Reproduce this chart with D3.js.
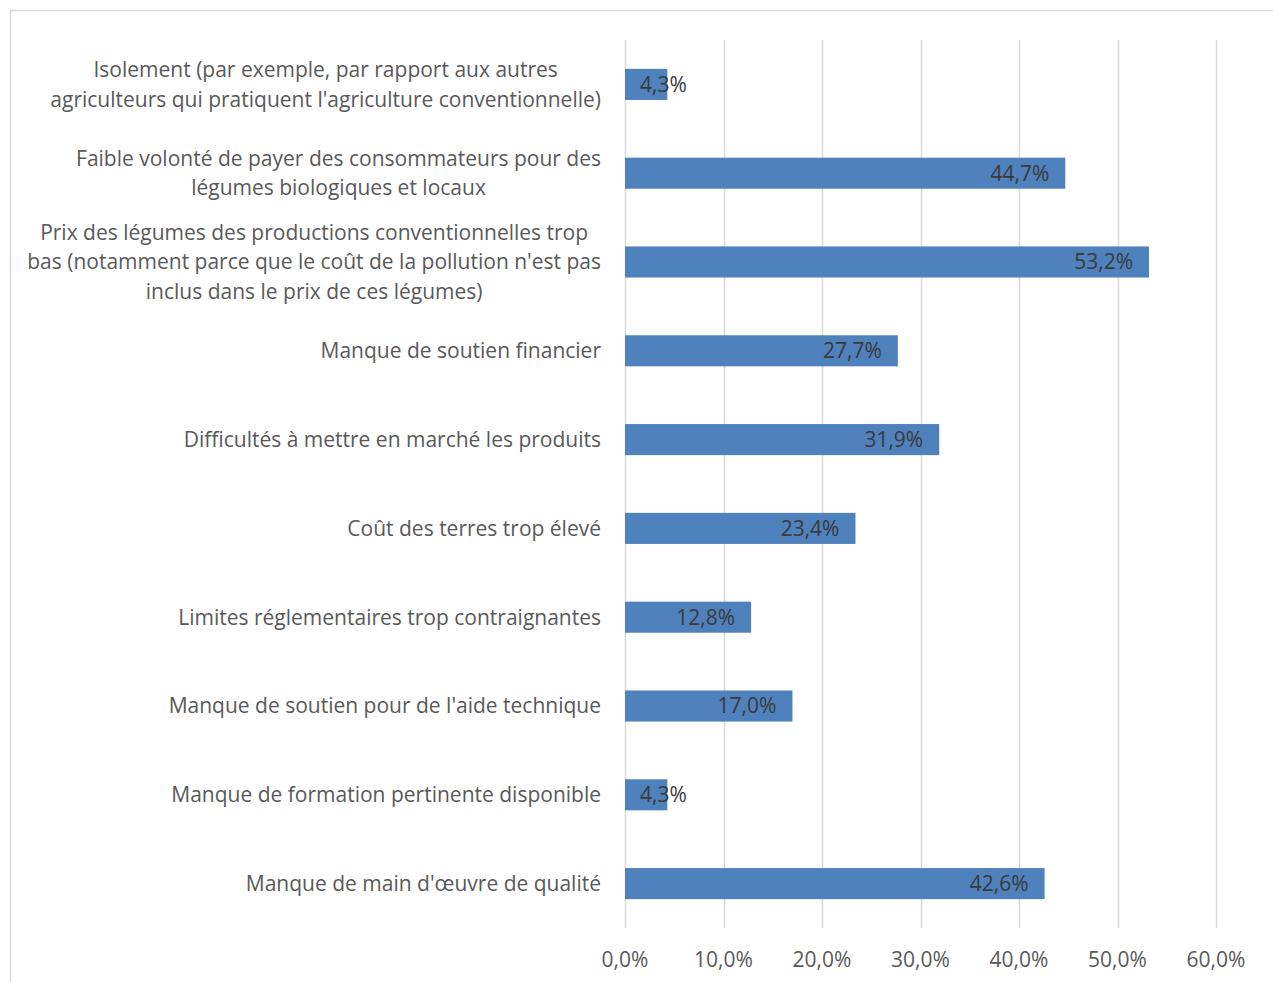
<!DOCTYPE html>
<html>
<head>
<meta charset="utf-8">
<script src="https://cdn.jsdelivr.net/npm/d3@7"></script>
<style>
  html, body { margin: 0; padding: 0; background: #ffffff; }
  svg { display: block; }
  text { font-family: "Open Sans", sans-serif; fill: #595959; }
</style>
</head>
<body>
<svg id="chart" width="1273" height="982"></svg>
<script>
const categories = [
  "Isolement (par exemple, par rapport aux autres\nagriculteurs qui pratiquent l'agriculture conventionnelle)",
  "Faible volonté de payer des consommateurs pour des\nlégumes biologiques et locaux",
  "Prix des légumes des productions conventionnelles trop\nbas (notamment parce que le coût de la pollution n'est pas\ninclus dans le prix de ces légumes)",
  "Manque de soutien financier",
  "Difficultés à mettre en marché les produits",
  "Coût des terres trop élevé",
  "Limites réglementaires trop contraignantes",
  "Manque de soutien pour de l'aide technique",
  "Manque de formation pertinente disponible",
  "Manque de main d'œuvre de qualité"
];
const values = [4.3, 44.7, 53.2, 27.7, 31.9, 23.4, 12.8, 17.0, 4.3, 42.6];
const tickValues = [0, 10, 20, 30, 40, 50, 60];

const fontSize = 21;
const fmt = v => d3.format(".1f")(v).replace(".", ",") + "%";

const svg = d3.select("#chart");

// outer chart border
svg.append("rect")
  .attr("x", 10.5).attr("y", 10.5)
  .attr("width", 1300).attr("height", 1000)
  .attr("fill", "none").attr("stroke", "#d9d9d9").attr("stroke-width", 1.5);

const x = d3.scaleLinear().domain([0, 60]).range([625, 1216]);
const y = d3.scaleBand().domain(categories).range([40, 928])
  .paddingInner(0.65).paddingOuter(0.325);

// gridlines
svg.append("g").selectAll("line").data(tickValues).join("line")
  .attr("x1", d => Math.round(x(d)) + 0.5).attr("x2", d => Math.round(x(d)) + 0.5)
  .attr("y1", 40).attr("y2", 928)
  .attr("stroke", "#d9d9d9").attr("stroke-width", 1.5);

// bars
svg.append("g").selectAll("rect").data(values).join("rect")
  .attr("x", x(0))
  .attr("y", (d, i) => y(categories[i]))
  .attr("width", d => x(d) - x(0))
  .attr("height", y.bandwidth())
  .attr("fill", "#4f81bd");

// value labels (inside end)
const vl = svg.append("g").selectAll("text").data(values).join("text")
  .attr("y", (d, i) => y(categories[i]) + y.bandwidth() / 2)
  .attr("dy", "0.35em")
  .attr("font-size", fontSize)
  .style("fill", "#3a3a3a")
  .text(d => fmt(d));
vl.each(function(d) {
  const w = this.getComputedTextLength();
  let end = x(d) - 16;
  if (end - w < x(0) + 15) end = x(0) + 15 + w;
  d3.select(this).attr("x", end).attr("text-anchor", "end");
});

// category labels: block right-aligned at 601, lines centred within block
const lineH = 29.5;
const labelRight = 601;
svg.append("g").selectAll("text").data(categories).join("text")
  .attr("font-size", fontSize)
  .attr("text-anchor", "middle")
  .each(function(c) {
    const lines = c.split("\n");
    const cy = y(c) + y.bandwidth() / 2;
    const t = d3.select(this);
    const spans = lines.map((ln, k) => t.append("tspan")
        .attr("y", cy + (k - (lines.length - 1) / 2) * lineH)
        .attr("dy", "0.35em")
        .text(ln));
    const maxW = d3.max(spans, s => s.node().getComputedTextLength());
    spans.forEach(s => s.attr("x", labelRight - maxW / 2));
  });

// x axis tick labels
svg.append("g").selectAll("text").data(tickValues).join("text")
  .attr("x", d => x(d))
  .attr("y", 960)
  .attr("dy", "0.35em")
  .attr("text-anchor", "middle")
  .attr("font-size", fontSize)
  .text(d => fmt(d));
</script>
</body>
</html>
